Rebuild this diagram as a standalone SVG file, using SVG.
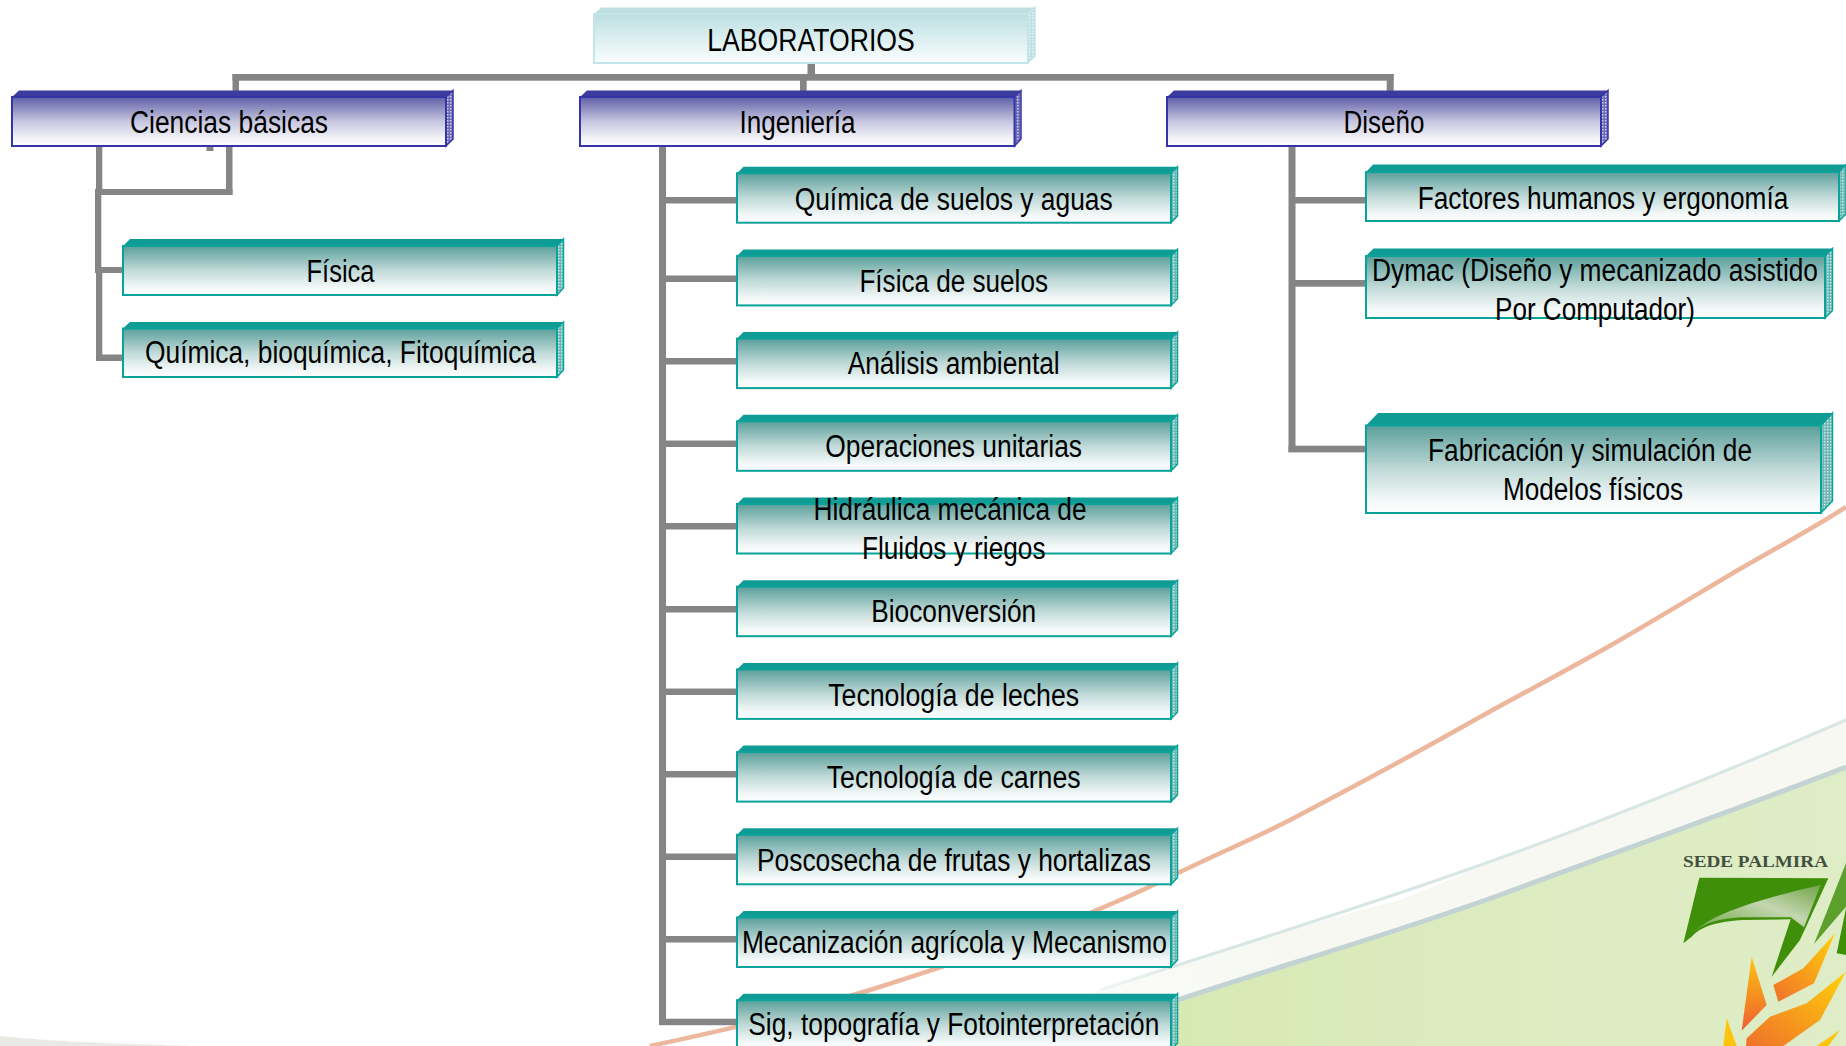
<svg xmlns="http://www.w3.org/2000/svg" width="1846" height="1046" viewBox="0 0 1846 1046">
<style>
text{font-family:"Liberation Sans",Arial,sans-serif;font-size:31px;fill:#000;text-anchor:middle}
.conn{fill:#858585;stroke:none}
.teal .t{fill:#0e9c95}.teal .s{fill:url(#pTeal);stroke:#0aa39c;stroke-width:1.500}.teal .f{fill:url(#gTeal);stroke:#0aa39c;stroke-width:2}
.navy .t{fill:#3c3c9e}.navy .s{fill:url(#pNavy);stroke:#3535a8;stroke-width:1.500}.navy .f{fill:url(#gNavy);stroke:#3535a8;stroke-width:2}
.pale .t{fill:#bfe0e3}.pale .s{fill:url(#pPale);stroke:#c4e5e7;stroke-width:1.500}.pale .f{fill:url(#gPale);stroke:#c4e5e7;stroke-width:2}
</style>
<defs>
<linearGradient id="gTeal" x1="0" y1="0" x2="0" y2="1"><stop offset="0" stop-color="#5b9f9b"/><stop offset="0.5" stop-color="#c0dad8"/><stop offset="0.85" stop-color="#f3f8f8"/><stop offset="1" stop-color="#fdfefe"/></linearGradient>
<linearGradient id="gNavy" x1="0" y1="0" x2="0" y2="1"><stop offset="0" stop-color="#5f5fa8"/><stop offset="0.5" stop-color="#c6c6df"/><stop offset="0.85" stop-color="#f4f4f9"/><stop offset="1" stop-color="#fdfdfe"/></linearGradient>
<linearGradient id="gPale" x1="0" y1="0" x2="0" y2="1"><stop offset="0" stop-color="#bcdfe2"/><stop offset="1" stop-color="#fbfefe"/></linearGradient>
<linearGradient id="gGreen" x1="0" y1="0" x2="1" y2="0"><stop offset="0" stop-color="#d5e8ad"/><stop offset="0.5" stop-color="#dcebbf"/><stop offset="1" stop-color="#deedc6"/></linearGradient>
<linearGradient id="gBand" gradientUnits="userSpaceOnUse" x1="1000" y1="0" x2="1300" y2="0"><stop offset="0" stop-color="#f2f5ec" stop-opacity="0"/><stop offset="1" stop-color="#f6f8f1"/></linearGradient>
<linearGradient id="gLine" gradientUnits="userSpaceOnUse" x1="1050" y1="0" x2="1200" y2="0"><stop offset="0" stop-color="#d8e6e4" stop-opacity="0"/><stop offset="1" stop-color="#d8e6e4"/></linearGradient>
<linearGradient id="g7" x1="0" y1="1" x2="1" y2="0"><stop offset="0" stop-color="#5f9f2e"/><stop offset="0.6" stop-color="#c4d6b0"/><stop offset="1" stop-color="#6fa546"/></linearGradient>
<linearGradient id="gF1" x1="0" y1="1" x2="1" y2="0"><stop offset="0" stop-color="#f0702a"/><stop offset="1" stop-color="#ffd20a"/></linearGradient>
<linearGradient id="gF2" x1="0" y1="0" x2="0" y2="1"><stop offset="0" stop-color="#fdc40f"/><stop offset="1" stop-color="#ee5f30"/></linearGradient>
<pattern id="pTeal" width="3" height="3" patternUnits="userSpaceOnUse"><rect width="3" height="3" fill="#6db8b3"/><rect width="1.500" height="1.500" fill="#cfe7e5"/></pattern>
<pattern id="pNavy" width="3" height="3" patternUnits="userSpaceOnUse"><rect width="3" height="3" fill="#6a6ab5"/><rect width="1.500" height="1.500" fill="#d0d0e8"/></pattern>
<pattern id="pPale" width="3" height="3" patternUnits="userSpaceOnUse"><rect width="3" height="3" fill="#bfe0e3"/><rect width="1.500" height="1.500" fill="#e4f2f3"/></pattern>
</defs>
<rect width="1846" height="1046" fill="#ffffff"/>
<g id="background">
<path d="M0 1036 C40 1040 80 1043 200 1046 L0 1046 Z" fill="#e9e9e5"/>
<path d="M1000 1025 C1100 990 1267 933 1400 900 C1500 858 1700 780 1846 720 L1846 767 C1730 812 1600 858 1500 895 C1380 938 1260 972 1178 1000 L1100 1046 L960 1046 Z" fill="url(#gBand)"/>
<path d="M1846 767 C1730 812 1600 858 1500 895 C1380 938 1260 972 1178 1000 L1090 1030 L1040 1046 L1846 1046 Z" fill="url(#gGreen)"/>
<path d="M1846 767 C1730 812 1600 858 1500 895 C1380 938 1260 972 1178 1000" fill="none" stroke="#c3d3d4" stroke-width="5"/>
<path d="M1846 720 C1730 770 1600 822 1500 858 C1380 902 1230 948 1100 990" fill="none" stroke="url(#gLine)" stroke-width="3"/>
<path d="M650 1046 C740 1027 800 1012 870 990 C980 955 1080 922 1176 874 C1215 855 1255 838 1290 820 C1355 786 1420 751 1480 717 C1527 691 1575 666 1620 640 C1658 618 1696 595 1733 573 C1771 551 1810 530 1846 507" fill="none" stroke="#ecb79c" stroke-width="4.500"/>
<text x="1755.500" y="866.500" textLength="145" lengthAdjust="spacingAndGlyphs" style="font-family:'Liberation Serif',serif;font-weight:bold;font-size:17px;fill:#454f3f">SEDE PALMIRA</text>
<g transform="translate(1660 840) scale(.33333)">
<path d="M118 113 L505 115 L420 300 L335 410 L392 238 L250 240 C170 245 125 258 95 290 L70 310 Z" fill="#3f8f0a"/>
<path d="M90 292 C120 240 240 190 482 135 L432 262 L392 232 L240 232 C160 238 115 255 90 292 Z" fill="url(#g7)"/>
<path d="M558 70 L462 312 L558 200 Z" fill="#5c9f2c"/>
<path d="M558 205 L530 340 L558 345 Z" fill="#3f8f0a"/>
<path d="M525 280 L462 430 L355 485 L340 435 L430 385 Z" fill="url(#gF1)"/>
<path d="M275 350 L320 495 L245 572 Z" fill="url(#gF2)"/>
<path d="M558 395 L480 540 L370 618 L258 618 L260 595 L330 530 L440 490 Z" fill="url(#gF1)"/>
<path d="M200 535 L230 618 L190 618 Z" fill="#fdc40f"/>
<path d="M540 570 L505 618 L470 618 Z" fill="#fdc40f"/>
</g>
</g>
<g id="connectors">
<rect class="conn" x="807.500" y="63" width="7.500" height="14"/>
<rect class="conn" x="232.500" y="74" width="1161" height="6.700"/>
<rect class="conn" x="232.500" y="74" width="6.500" height="17"/>
<rect class="conn" x="800" y="78" width="6.700" height="13"/>
<rect class="conn" x="1386.700" y="74" width="7" height="17"/>
<rect class="conn" x="206.500" y="146" width="7" height="5"/>
<rect class="conn" x="226" y="146" width="6.500" height="49"/>
<rect class="conn" x="95" y="189" width="137.500" height="6"/>
<rect class="conn" x="96" y="146" width="6.300" height="44"/>
<rect class="conn" x="95" y="190" width="6.300" height="83"/>
<rect class="conn" x="96" y="273" width="6.300" height="88"/>
<rect class="conn" x="95" y="267" width="28" height="6"/>
<rect class="conn" x="96" y="354.500" width="27" height="6.500"/>
<rect class="conn" x="659" y="146" width="7" height="879"/>
<rect class="conn" x="666" y="197" width="71" height="6.500"/>
<rect class="conn" x="666" y="275.500" width="71" height="6.500"/>
<rect class="conn" x="666" y="358" width="71" height="6.500"/>
<rect class="conn" x="666" y="440.500" width="71" height="6.500"/>
<rect class="conn" x="666" y="523" width="71" height="6.500"/>
<rect class="conn" x="666" y="606" width="71" height="6.500"/>
<rect class="conn" x="666" y="688.500" width="71" height="6.500"/>
<rect class="conn" x="666" y="771" width="71" height="6.500"/>
<rect class="conn" x="666" y="853.500" width="71" height="6.500"/>
<rect class="conn" x="666" y="936" width="71" height="6.500"/>
<rect class="conn" x="659" y="1018.700" width="78" height="6.500"/>
<rect class="conn" x="1288.500" y="146" width="7" height="306"/>
<rect class="conn" x="1295" y="197" width="71" height="6.500"/>
<rect class="conn" x="1295" y="280" width="71" height="6.700"/>
<rect class="conn" x="1288.500" y="445.700" width="77.500" height="6.700"/>
</g>
<g id="n-laboratorios" class="pale"><polygon class="t" points="594,14 601,7.500 1035,7.500 1028,14"/><polygon class="s" points="1028,14 1035,7.500 1035,56 1028,63"/><rect class="f" x="594" y="14" width="434" height="49"/><text x="811" y="50.700" textLength="207.500" lengthAdjust="spacingAndGlyphs">LABORATORIOS</text></g>
<g id="n-ciencias" class="navy"><polygon class="t" points="12,97 19,90.500 453,90.500 446,97"/><polygon class="s" points="446,97 453,90.500 453,139 446,146"/><rect class="f" x="12" y="97" width="434" height="49"/><text x="229" y="132.700" textLength="198" lengthAdjust="spacingAndGlyphs">Ciencias básicas</text></g>
<g id="n-ingenieria" class="navy"><polygon class="t" points="580,97 587,90.500 1021,90.500 1014.500,97"/><polygon class="s" points="1014.500,97 1021,90.500 1021,139 1014.500,146"/><rect class="f" x="580" y="97" width="434.500" height="49"/><text x="797.400" y="132.700" textLength="116" lengthAdjust="spacingAndGlyphs">Ingeniería</text></g>
<g id="n-diseno" class="navy"><polygon class="t" points="1167,97 1174,90.500 1608,90.500 1601,97"/><polygon class="s" points="1601,97 1608,90.500 1608,139 1601,146"/><rect class="f" x="1167" y="97" width="434" height="49"/><text x="1384" y="132.700" textLength="81" lengthAdjust="spacingAndGlyphs">Diseño</text></g>
<g id="n-fisica" class="teal"><polygon class="t" points="123,246 130,239 563.500,239 557,246"/><polygon class="s" points="557,246 563.500,239 563.500,288 557,295"/><rect class="f" x="123" y="246" width="434" height="49"/><text x="340.500" y="281.700" textLength="68" lengthAdjust="spacingAndGlyphs">Física</text></g>
<g id="n-quimica" class="teal"><polygon class="t" points="123,328.500 130,322 563.500,322 557,328.500"/><polygon class="s" points="557,328.500 563.500,322 563.500,370 557,377"/><rect class="f" x="123" y="328.500" width="434" height="48.500"/><text x="340.500" y="363.300" textLength="391" lengthAdjust="spacingAndGlyphs">Química, bioquímica, Fitoquímica</text></g>
<g id="n-i0" class="teal"><polygon class="t" points="737,173.200 743.500,166.700 1177.500,166.700 1171,173.200"/><polygon class="s" points="1171,173.200 1177.500,166.700 1177.500,216 1171,222.700"/><rect class="f" x="737" y="173.200" width="434" height="49.500"/><text x="953.700" y="210" textLength="318" lengthAdjust="spacingAndGlyphs">Química de suelos y aguas</text></g>
<g id="n-i1" class="teal"><polygon class="t" points="737,255.900 743.500,249.400 1177.500,249.400 1171,255.900"/><polygon class="s" points="1171,255.900 1177.500,249.400 1177.500,298.700 1171,305.400"/><rect class="f" x="737" y="255.900" width="434" height="49.500"/><text x="953.700" y="292" textLength="188.600" lengthAdjust="spacingAndGlyphs">Física de suelos</text></g>
<g id="n-i2" class="teal"><polygon class="t" points="737,338.600 743.500,332.100 1177.500,332.100 1171,338.600"/><polygon class="s" points="1171,338.600 1177.500,332.100 1177.500,381.400 1171,388.100"/><rect class="f" x="737" y="338.600" width="434" height="49.500"/><text x="953.700" y="374" textLength="212" lengthAdjust="spacingAndGlyphs">Análisis ambiental</text></g>
<g id="n-i3" class="teal"><polygon class="t" points="737,421.300 743.500,414.800 1177.500,414.800 1171,421.300"/><polygon class="s" points="1171,421.300 1177.500,414.800 1177.500,464.100 1171,470.800"/><rect class="f" x="737" y="421.300" width="434" height="49.500"/><text x="953.700" y="457.400" textLength="256.700" lengthAdjust="spacingAndGlyphs">Operaciones unitarias</text></g>
<g id="n-i4" class="teal"><polygon class="t" points="737,504 743.500,497.500 1177.500,497.500 1171,504"/><polygon class="s" points="1171,504 1177.500,497.500 1177.500,546.800 1171,553.500"/><rect class="f" x="737" y="504" width="434" height="49.500"/><text x="950" y="520" textLength="273" lengthAdjust="spacingAndGlyphs">Hidráulica mecánica de</text><text x="953.700" y="559" textLength="183.600" lengthAdjust="spacingAndGlyphs">Fluidos y riegos</text></g>
<g id="n-i5" class="teal"><polygon class="t" points="737,586.700 743.500,580.200 1177.500,580.200 1171,586.700"/><polygon class="s" points="1171,586.700 1177.500,580.200 1177.500,629.500 1171,636.200"/><rect class="f" x="737" y="586.700" width="434" height="49.500"/><text x="953.700" y="622.300" textLength="165" lengthAdjust="spacingAndGlyphs">Bioconversión</text></g>
<g id="n-i6" class="teal"><polygon class="t" points="737,669.400 743.500,662.900 1177.500,662.900 1171,669.400"/><polygon class="s" points="1171,669.400 1177.500,662.900 1177.500,712.200 1171,718.900"/><rect class="f" x="737" y="669.400" width="434" height="49.500"/><text x="953.700" y="705.500" textLength="251" lengthAdjust="spacingAndGlyphs">Tecnología de leches</text></g>
<g id="n-i7" class="teal"><polygon class="t" points="737,752.100 743.500,745.600 1177.500,745.600 1171,752.100"/><polygon class="s" points="1171,752.100 1177.500,745.600 1177.500,794.900 1171,801.600"/><rect class="f" x="737" y="752.100" width="434" height="49.500"/><text x="953.700" y="788.200" textLength="254" lengthAdjust="spacingAndGlyphs">Tecnología de carnes</text></g>
<g id="n-i8" class="teal"><polygon class="t" points="737,834.800 743.500,828.300 1177.500,828.300 1171,834.800"/><polygon class="s" points="1171,834.800 1177.500,828.300 1177.500,877.600 1171,884.300"/><rect class="f" x="737" y="834.800" width="434" height="49.500"/><text x="954" y="870.900" textLength="394" lengthAdjust="spacingAndGlyphs">Poscosecha de frutas y hortalizas</text></g>
<g id="n-i9" class="teal"><polygon class="t" points="737,917.500 743.500,911 1177.500,911 1171,917.500"/><polygon class="s" points="1171,917.500 1177.500,911 1177.500,960.300 1171,967"/><rect class="f" x="737" y="917.500" width="434" height="49.500"/><text x="954.400" y="952.800" textLength="425" lengthAdjust="spacingAndGlyphs">Mecanización agrícola y Mecanismo</text></g>
<g id="n-i10" class="teal"><polygon class="t" points="737,1000.200 743.500,993.700 1177.500,993.700 1171,1000.200"/><polygon class="s" points="1171,1000.200 1177.500,993.700 1177.500,1043 1171,1049.700"/><rect class="f" x="737" y="1000.200" width="434" height="49.500"/><text x="953.800" y="1035.300" textLength="411" lengthAdjust="spacingAndGlyphs">Sig, topografía y Fotointerpretación</text></g>
<g id="n-factores" class="teal"><polygon class="t" points="1366,172 1373,164.500 1846,164.500 1839,172"/><polygon class="s" points="1839,172 1846,164.500 1846,214 1839,221"/><rect class="f" x="1366" y="172" width="473" height="49"/><text x="1603" y="208.500" textLength="370.600" lengthAdjust="spacingAndGlyphs">Factores humanos y ergonomía</text></g>
<g id="n-dymac" class="teal"><polygon class="t" points="1366,256 1373.500,248.500 1832.500,248.500 1825,256"/><polygon class="s" points="1825,256 1832.500,248.500 1832.500,310.500 1825,318"/><rect class="f" x="1366" y="256" width="459" height="62"/><text x="1595" y="281" textLength="446" lengthAdjust="spacingAndGlyphs">Dymac (Diseño y mecanizado asistido</text><text x="1595" y="320" textLength="200" lengthAdjust="spacingAndGlyphs">Por Computador)</text></g>
<g id="n-fabricacion" class="teal"><polygon class="t" points="1366,425.500 1378,413 1832.500,413 1821,425.500"/><polygon class="s" points="1821,425.500 1832.500,413 1832.500,501 1821,513"/><rect class="f" x="1366" y="425.500" width="455" height="87.500"/><text x="1590" y="460.500" textLength="324" lengthAdjust="spacingAndGlyphs">Fabricación y simulación de</text><text x="1593" y="499.800" textLength="180" lengthAdjust="spacingAndGlyphs">Modelos físicos</text></g>
</svg>
